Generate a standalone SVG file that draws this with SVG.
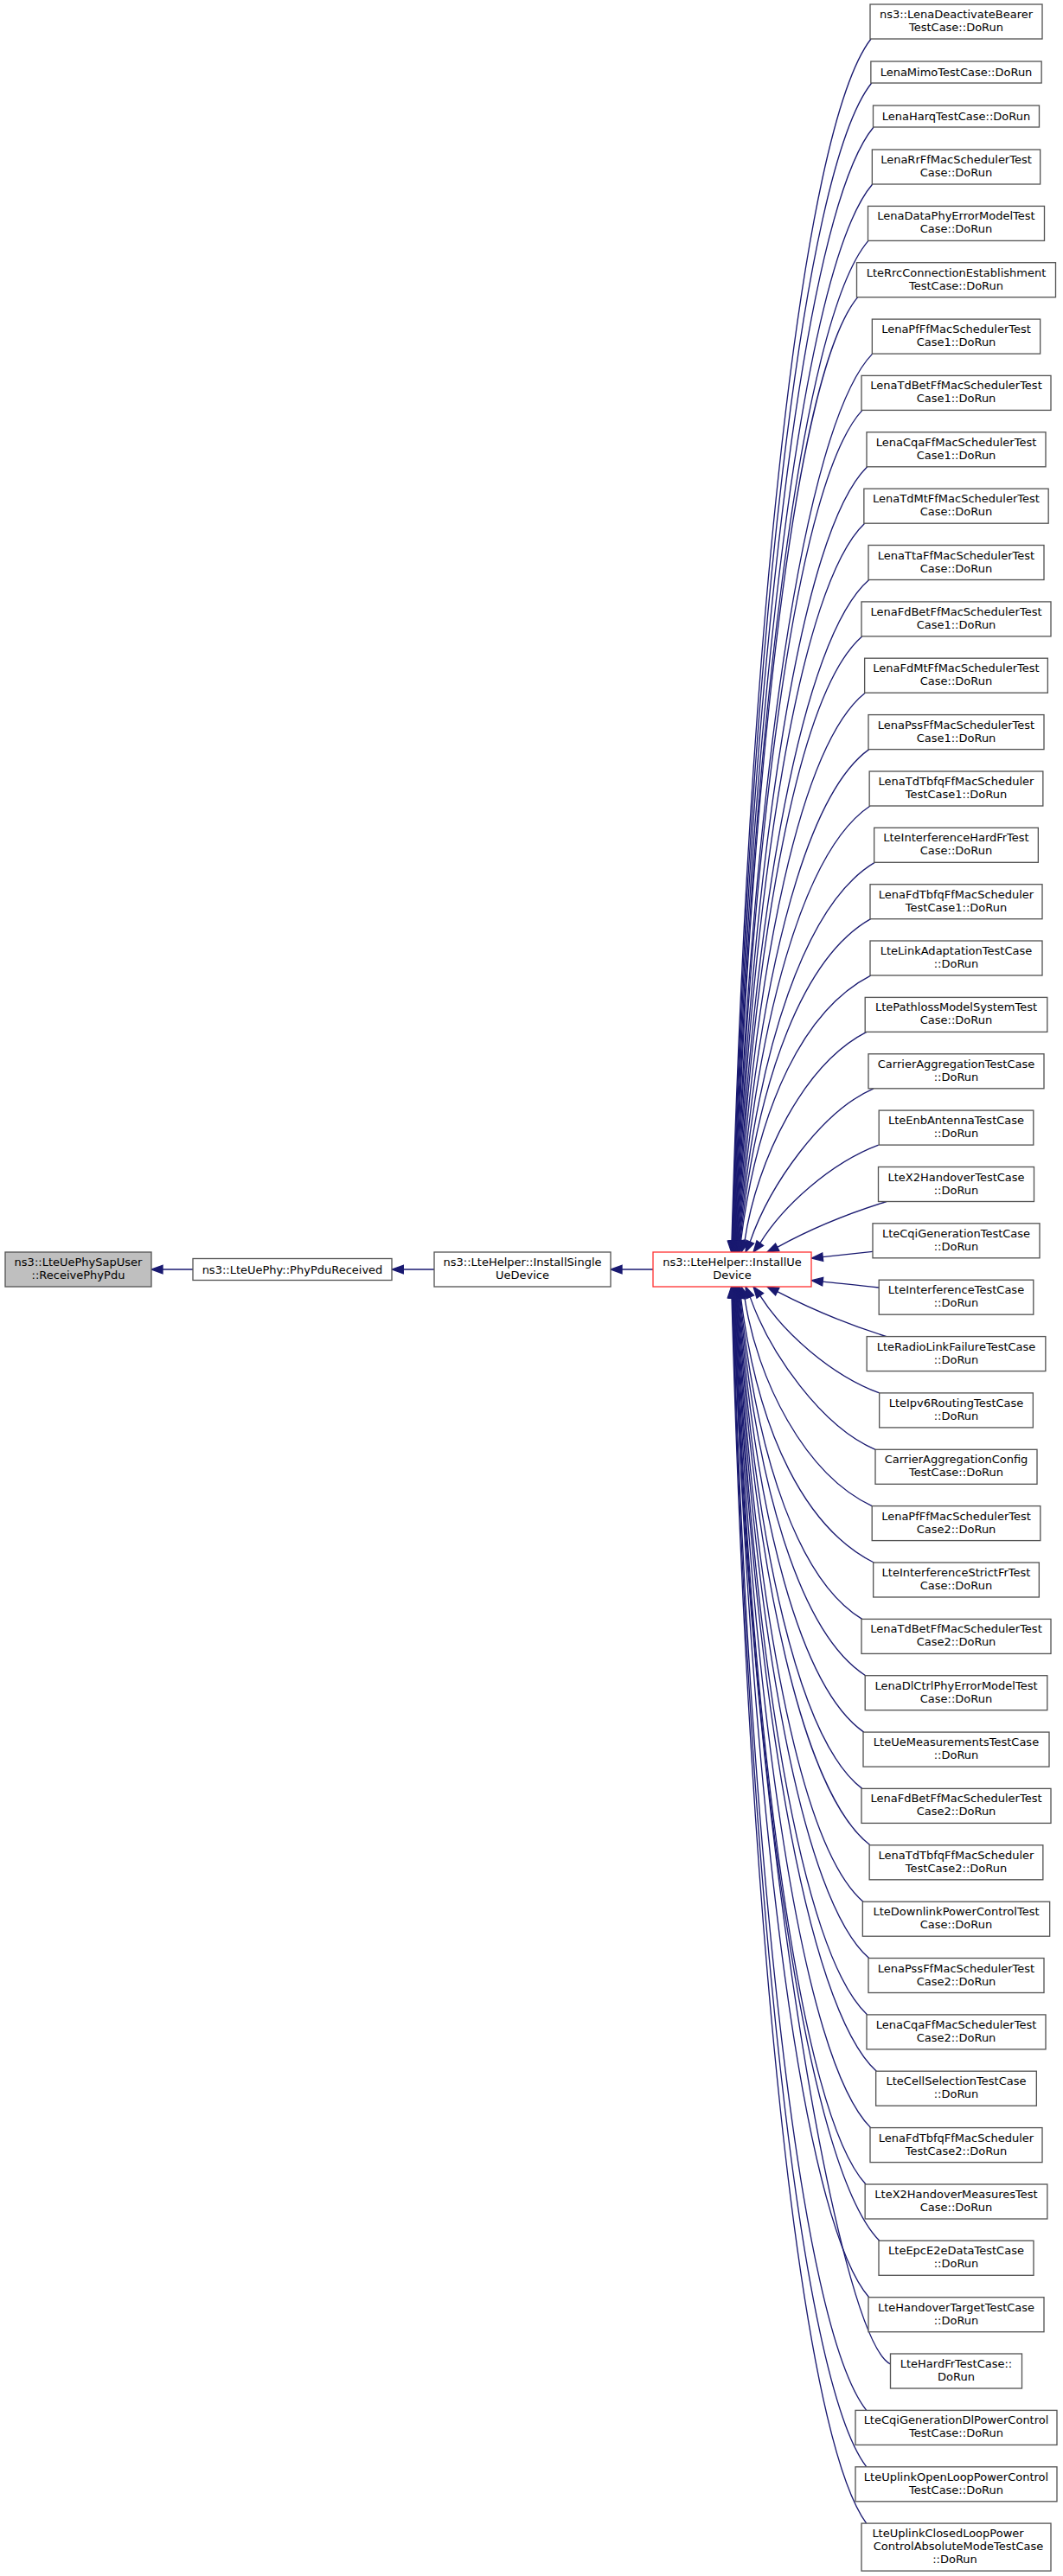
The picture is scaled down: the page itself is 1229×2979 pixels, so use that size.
<svg xmlns="http://www.w3.org/2000/svg" width="1229" height="2979" viewBox="0 0 1229 2979">
<style>
.n rect{fill:#ffffff;stroke:#555555;stroke-width:1.33}
.root rect{fill:#bfbfbf}
.red rect{stroke:#ff3333}
text{font-family:'DejaVu Sans',sans-serif;font-size:13px;text-anchor:middle;fill:#000000}
.e path{fill:none;stroke:#191970;stroke-width:1.33}
.e polygon{fill:#191970;stroke:#191970;stroke-width:1.33}
</style>
<rect width="1229" height="2979" fill="#ffffff"/>
<g id="edges" class="e">
<path d="M223,1468 L188,1468"/><polygon points="188,1463.3 175,1468 188,1472.7"/>
<path d="M502,1468 L466.3,1468"/><polygon points="466.3,1463.3 453.3,1468 466.3,1472.7"/>
<path d="M755,1468 L719,1468"/><polygon points="719,1463.3 706,1468 719,1472.7"/>
<path d="M1007,45 C926.3,149.2 866,733.5 846,1435"/><polygon points="850.7,1434.9 845.65,1448 841.3,1435.1"/>
<path d="M1007.7,96 C926.9,197.1 866.6,759 846.6,1435"/><polygon points="851.3,1434.9 846.2,1448 841.9,1435.1"/>
<path d="M1010,147 C928.4,245.1 867.2,784.5 847.15,1435"/><polygon points="851.9,1434.9 846.75,1448 842.5,1435.1"/>
<path d="M1008.7,213 C928,307.1 867.7,817.5 847.7,1435"/><polygon points="852.4,1434.8 847.3,1448 843,1435.2"/>
<path d="M1004,278.4 C925.9,368.6 868.3,850.2 848.3,1435"/><polygon points="853,1434.8 847.85,1448 843.6,1435.2"/>
<path d="M991.7,343.7 C920,430 868.9,882.8 848.9,1435"/><polygon points="853.6,1434.8 848.4,1448 844.2,1435.2"/>
<path d="M1008.7,409.1 C928.8,491.4 869.45,915.5 849.45,1435"/><polygon points="854.15,1434.8 848.95,1448 844.75,1435.2"/>
<path d="M997,474.4 C923.25,552.8 870,948.2 850,1435"/><polygon points="854.7,1434.8 849.5,1448 845.3,1435.2"/>
<path d="M1002.7,539.8 C926.4,614.3 870.6,980.9 850.6,1435"/><polygon points="855.3,1434.8 850.05,1448 845.9,1435.2"/>
<path d="M999.7,605.2 C925.15,675.8 871.2,1013.6 851.2,1435"/><polygon points="855.9,1434.8 850.6,1448 846.5,1435.2"/>
<path d="M1004.7,670.5 C927.9,737.2 871.8,1046.25 851.8,1435"/><polygon points="856.5,1434.8 851.15,1448 847.1,1435.2"/>
<path d="M996.7,735.9 C924.2,798.6 872.4,1079 852.4,1435"/><polygon points="857.1,1434.7 851.7,1448 847.7,1435.3"/>
<path d="M1000.3,801.3 C926.3,860.1 873.05,1111.65 853.05,1435"/><polygon points="857.75,1434.7 852.25,1448 848.35,1435.3"/>
<path d="M1004.7,866.6 C928.75,921.5 873.7,1144.3 853.7,1435"/><polygon points="858.4,1434.7 852.8,1448 849,1435.3"/>
<path d="M1006,932 C929.7,983 874.35,1177 854.35,1435"/><polygon points="859.05,1434.6 853.35,1448 849.65,1435.4"/>
<path d="M1011.3,997.4 C932.6,1044.4 875.05,1209.7 855.05,1435"/><polygon points="859.75,1434.6 853.9,1448 850.35,1435.4"/>
<path d="M1006.7,1062.7 C930.6,1105.8 875.8,1242.35 855.8,1435"/><polygon points="860.5,1434.5 854.45,1448 851.1,1435.5"/>
<path d="M1006.7,1128.1 C930.85,1167.3 876.6,1275 856.6,1435"/><polygon points="861.3,1434.4 855,1448 851.9,1435.6"/>
<path d="M1002,1193.4 C930,1230 875,1340 860.9,1435.6"/><polygon points="865.4,1437 857,1448 856.4,1434.2"/>
<path d="M1010,1258.8 C950,1285 890,1370 867.2,1436.1"/><polygon points="871.5,1438 862,1448 862.9,1434.2"/>
<path d="M1015.7,1324.1 C960,1345 905,1395 878.8,1437.6"/><polygon points="882.6,1440.4 871,1448 875,1434.8"/>
<path d="M1025,1389.5 C975,1405 930,1425 898.7,1442.3"/><polygon points="900.8,1446.5 887,1448 896.6,1438.1"/>
<path d="M1009,1447.3 C985,1450 965,1452 951.2,1453.6"/><polygon points="951.7,1458.3 938.3,1455 950.7,1448.9"/>
<path d="M1016.2,1489 C990,1486 968,1484 951.2,1482.1"/><polygon points="950.7,1486.8 938.3,1480.7 951.7,1477.4"/>
<path d="M1025,1545.6 C975,1530 930,1510 898.7,1493.7"/><polygon points="900.8,1489.5 887,1488 896.6,1497.9"/>
<path d="M1016.7,1610.9 C960,1590 905,1540 878.8,1498.4"/><polygon points="882.6,1495.6 871,1488 875,1501.2"/>
<path d="M1012,1676.3 C950,1650 890,1565 867.2,1499.9"/><polygon points="871.5,1498 862,1488 862.9,1501.8"/>
<path d="M1008.2,1741.6 C930,1705 875,1595 860.9,1500.4"/><polygon points="865.4,1499 857,1488 856.4,1501.8"/>
<path d="M1010.3,1807 C932.65,1767.9 876.63,1660.5 856.63,1501"/><polygon points="861.33,1501.6 855,1488 851.93,1500.4"/>
<path d="M996.7,1872.4 C925.6,1829.3 875.8,1693.2 855.8,1501"/><polygon points="860.5,1501.5 854.45,1488 851.1,1500.5"/>
<path d="M1000.7,1937.7 C927.3,1890.7 875.06,1725.85 855.06,1501"/><polygon points="859.76,1501.4 853.9,1488 850.36,1500.6"/>
<path d="M998.7,2003.1 C926,1952.2 874.36,1758.55 854.36,1501"/><polygon points="859.06,1501.4 853.35,1488 849.66,1500.6"/>
<path d="M996.7,2068.4 C924.75,2013.6 873.7,1791.2 853.7,1501"/><polygon points="858.4,1501.3 852.8,1488 849,1500.7"/>
<path d="M1006,2133.8 C929.1,2075.1 873.05,1823.9 853.05,1501"/><polygon points="857.75,1501.3 852.25,1488 848.35,1500.7"/>
<path d="M998,2199.2 C924.85,2136.5 872.43,1856.6 852.43,1501"/><polygon points="857.13,1501.3 851.7,1488 847.73,1500.7"/>
<path d="M1004.7,2264.5 C927.9,2197.9 871.82,1889.25 851.82,1501"/><polygon points="856.52,1501.2 851.15,1488 847.12,1500.8"/>
<path d="M1002.7,2329.9 C926.65,2259.4 871.22,1921.95 851.22,1501"/><polygon points="855.92,1501.2 850.6,1488 846.52,1500.8"/>
<path d="M1013.3,2395.3 C931.7,2320.9 870.62,1954.65 850.62,1501"/><polygon points="855.32,1501.2 850.05,1488 845.92,1500.8"/>
<path d="M1006.7,2460.6 C928.1,2382.2 870.03,1987.3 850.03,1501"/><polygon points="854.73,1501.2 849.5,1488 845.33,1500.8"/>
<path d="M1001,2526 C925,2443.7 869.45,2020 849.45,1501"/><polygon points="854.15,1501.2 848.95,1488 844.75,1500.8"/>
<path d="M1016.7,2591.3 C932.55,2505.1 868.87,2052.65 848.87,1501"/><polygon points="853.57,1501.2 848.4,1488 844.17,1500.8"/>
<path d="M1004.7,2656.7 C926.3,2566.6 868.29,2085.35 848.29,1501"/><polygon points="852.99,1501.2 847.85,1488 843.59,1500.8"/>
<path d="M1029.5,2734 C969,2704 867.72,2118 847.72,1501"/><polygon points="852.42,1501.2 847.3,1488 843.02,1500.8"/>
<path d="M1001.7,2787.4 C924.2,2689.4 867.15,2150.7 847.15,1501"/><polygon points="851.85,1501.1 846.75,1488 842.45,1500.9"/>
<path d="M1001.7,2852.7 C923.95,2750.8 866.58,2183.35 846.58,1501"/><polygon points="851.28,1501.1 846.2,1488 841.88,1500.9"/>
<path d="M1001.7,2918.1 C923.7,2812.3 866.01,2216 846.01,1501"/><polygon points="850.71,1501.1 845.65,1488 841.31,1500.9"/>
</g>
<g id="node_root" class="n root"><rect x="6" y="1448" width="169" height="40"/><text x="90.5" y="1464">ns3::LteUePhySapUser</text><text x="90.5" y="1479">::ReceivePhyPdu</text></g>
<g id="node_phy" class="n"><rect x="223" y="1455.5" width="230" height="25"/><text x="338" y="1472.5">ns3::LteUePhy::PhyPduReceived</text></g>
<g id="node_single" class="n"><rect x="502" y="1448" width="204" height="40"/><text x="604" y="1464">ns3::LteHelper::InstallSingle</text><text x="604" y="1479">UeDevice</text></g>
<g id="node_ue" class="n red"><rect x="755" y="1448" width="183" height="40"/><text x="846.5" y="1464">ns3::LteHelper::InstallUe</text><text x="846.5" y="1479">Device</text></g>
<g id="node1" class="n"><rect x="1006" y="5" width="199" height="40"/><text x="1105.5" y="21">ns3::LenaDeactivateBearer</text><text x="1105.5" y="36">TestCase::DoRun</text></g>
<g id="node2" class="n"><rect x="1006.85" y="71" width="197.3" height="25"/><text x="1105.5" y="88">LenaMimoTestCase::DoRun</text></g>
<g id="node3" class="n"><rect x="1009.5" y="122" width="192" height="25"/><text x="1105.5" y="139">LenaHarqTestCase::DoRun</text></g>
<g id="node4" class="n"><rect x="1008.35" y="173" width="194.3" height="40"/><text x="1105.5" y="189">LenaRrFfMacSchedulerTest</text><text x="1105.5" y="204">Case::DoRun</text></g>
<g id="node5" class="n"><rect x="1003.5" y="238.4" width="204" height="40"/><text x="1105.5" y="254.4">LenaDataPhyErrorModelTest</text><text x="1105.5" y="269.4">Case::DoRun</text></g>
<g id="node6" class="n"><rect x="990.5" y="303.7" width="230" height="40"/><text x="1105.5" y="319.7">LteRrcConnectionEstablishment</text><text x="1105.5" y="334.7">TestCase::DoRun</text></g>
<g id="node7" class="n"><rect x="1008.35" y="369.1" width="194.3" height="40"/><text x="1105.5" y="385.1">LenaPfFfMacSchedulerTest</text><text x="1105.5" y="400.1">Case1::DoRun</text></g>
<g id="node8" class="n"><rect x="996" y="434.4" width="219" height="40"/><text x="1105.5" y="450.4">LenaTdBetFfMacSchedulerTest</text><text x="1105.5" y="465.4">Case1::DoRun</text></g>
<g id="node9" class="n"><rect x="1002" y="499.8" width="207" height="40"/><text x="1105.5" y="515.8">LenaCqaFfMacSchedulerTest</text><text x="1105.5" y="530.8">Case1::DoRun</text></g>
<g id="node10" class="n"><rect x="998.85" y="565.2" width="213.3" height="40"/><text x="1105.5" y="581.2">LenaTdMtFfMacSchedulerTest</text><text x="1105.5" y="596.2">Case::DoRun</text></g>
<g id="node11" class="n"><rect x="1004" y="630.5" width="203" height="40"/><text x="1105.5" y="646.5">LenaTtaFfMacSchedulerTest</text><text x="1105.5" y="661.5">Case::DoRun</text></g>
<g id="node12" class="n"><rect x="996" y="695.9" width="219" height="40"/><text x="1105.5" y="711.9">LenaFdBetFfMacSchedulerTest</text><text x="1105.5" y="726.9">Case1::DoRun</text></g>
<g id="node13" class="n"><rect x="999.65" y="761.2" width="211.7" height="40"/><text x="1105.5" y="777.2">LenaFdMtFfMacSchedulerTest</text><text x="1105.5" y="792.2">Case::DoRun</text></g>
<g id="node14" class="n"><rect x="1004" y="826.6" width="203" height="40"/><text x="1105.5" y="842.6">LenaPssFfMacSchedulerTest</text><text x="1105.5" y="857.6">Case1::DoRun</text></g>
<g id="node15" class="n"><rect x="1005.15" y="892" width="200.7" height="40"/><text x="1105.5" y="908">LenaTdTbfqFfMacScheduler</text><text x="1105.5" y="923">TestCase1::DoRun</text></g>
<g id="node16" class="n"><rect x="1010.65" y="957.3" width="189.7" height="40"/><text x="1105.5" y="973.3">LteInterferenceHardFrTest</text><text x="1105.5" y="988.3">Case::DoRun</text></g>
<g id="node17" class="n"><rect x="1006" y="1022.7" width="199" height="40"/><text x="1105.5" y="1038.7">LenaFdTbfqFfMacScheduler</text><text x="1105.5" y="1053.7">TestCase1::DoRun</text></g>
<g id="node18" class="n"><rect x="1006" y="1088" width="199" height="40"/><text x="1105.5" y="1104">LteLinkAdaptationTestCase</text><text x="1105.5" y="1119">::DoRun</text></g>
<g id="node19" class="n"><rect x="1000.2" y="1153.4" width="210.6" height="40"/><text x="1105.5" y="1169.4">LtePathlossModelSystemTest</text><text x="1105.5" y="1184.4">Case::DoRun</text></g>
<g id="node20" class="n"><rect x="1004" y="1218.8" width="203" height="40"/><text x="1105.5" y="1234.8">CarrierAggregationTestCase</text><text x="1105.5" y="1249.8">::DoRun</text></g>
<g id="node21" class="n"><rect x="1016.2" y="1284.1" width="178.6" height="40"/><text x="1105.5" y="1300.1">LteEnbAntennaTestCase</text><text x="1105.5" y="1315.1">::DoRun</text></g>
<g id="node22" class="n"><rect x="1015.5" y="1349.5" width="180" height="40"/><text x="1105.5" y="1365.5">LteX2HandoverTestCase</text><text x="1105.5" y="1380.5">::DoRun</text></g>
<g id="node23" class="n"><rect x="1009" y="1414.8" width="193" height="40"/><text x="1105.5" y="1430.8">LteCqiGenerationTestCase</text><text x="1105.5" y="1445.8">::DoRun</text></g>
<g id="node24" class="n"><rect x="1016.2" y="1480.2" width="178.6" height="40"/><text x="1105.5" y="1496.2">LteInterferenceTestCase</text><text x="1105.5" y="1511.2">::DoRun</text></g>
<g id="node25" class="n"><rect x="1002.15" y="1545.6" width="206.7" height="40"/><text x="1105.5" y="1561.6">LteRadioLinkFailureTestCase</text><text x="1105.5" y="1576.6">::DoRun</text></g>
<g id="node26" class="n"><rect x="1016.65" y="1610.9" width="177.7" height="40"/><text x="1105.5" y="1626.9">LteIpv6RoutingTestCase</text><text x="1105.5" y="1641.9">::DoRun</text></g>
<g id="node27" class="n"><rect x="1012" y="1676.3" width="187" height="40"/><text x="1105.5" y="1692.3">CarrierAggregationConfig</text><text x="1105.5" y="1707.3">TestCase::DoRun</text></g>
<g id="node28" class="n"><rect x="1008.2" y="1741.6" width="194.6" height="40"/><text x="1105.5" y="1757.6">LenaPfFfMacSchedulerTest</text><text x="1105.5" y="1772.6">Case2::DoRun</text></g>
<g id="node29" class="n"><rect x="1009.65" y="1807" width="191.7" height="40"/><text x="1105.5" y="1823">LteInterferenceStrictFrTest</text><text x="1105.5" y="1838">Case::DoRun</text></g>
<g id="node30" class="n"><rect x="996" y="1872.4" width="219" height="40"/><text x="1105.5" y="1888.4">LenaTdBetFfMacSchedulerTest</text><text x="1105.5" y="1903.4">Case2::DoRun</text></g>
<g id="node31" class="n"><rect x="1000.2" y="1937.7" width="210.6" height="40"/><text x="1105.5" y="1953.7">LenaDlCtrlPhyErrorModelTest</text><text x="1105.5" y="1968.7">Case::DoRun</text></g>
<g id="node32" class="n"><rect x="998" y="2003.1" width="215" height="40"/><text x="1105.5" y="2019.1">LteUeMeasurementsTestCase</text><text x="1105.5" y="2034.1">::DoRun</text></g>
<g id="node33" class="n"><rect x="996" y="2068.4" width="219" height="40"/><text x="1105.5" y="2084.4">LenaFdBetFfMacSchedulerTest</text><text x="1105.5" y="2099.4">Case2::DoRun</text></g>
<g id="node34" class="n"><rect x="1005.15" y="2133.8" width="200.7" height="40"/><text x="1105.5" y="2149.8">LenaTdTbfqFfMacScheduler</text><text x="1105.5" y="2164.8">TestCase2::DoRun</text></g>
<g id="node35" class="n"><rect x="997.35" y="2199.2" width="216.3" height="40"/><text x="1105.5" y="2215.2">LteDownlinkPowerControlTest</text><text x="1105.5" y="2230.2">Case::DoRun</text></g>
<g id="node36" class="n"><rect x="1004" y="2264.5" width="203" height="40"/><text x="1105.5" y="2280.5">LenaPssFfMacSchedulerTest</text><text x="1105.5" y="2295.5">Case2::DoRun</text></g>
<g id="node37" class="n"><rect x="1002" y="2329.9" width="207" height="40"/><text x="1105.5" y="2345.9">LenaCqaFfMacSchedulerTest</text><text x="1105.5" y="2360.9">Case2::DoRun</text></g>
<g id="node38" class="n"><rect x="1012.65" y="2395.2" width="185.7" height="40"/><text x="1105.5" y="2411.2">LteCellSelectionTestCase</text><text x="1105.5" y="2426.2">::DoRun</text></g>
<g id="node39" class="n"><rect x="1006" y="2460.6" width="199" height="40"/><text x="1105.5" y="2476.6">LenaFdTbfqFfMacScheduler</text><text x="1105.5" y="2491.6">TestCase2::DoRun</text></g>
<g id="node40" class="n"><rect x="1000.15" y="2526" width="210.7" height="40"/><text x="1105.5" y="2542">LteX2HandoverMeasuresTest</text><text x="1105.5" y="2557">Case::DoRun</text></g>
<g id="node41" class="n"><rect x="1016" y="2591.3" width="179" height="40"/><text x="1105.5" y="2607.3">LteEpcE2eDataTestCase</text><text x="1105.5" y="2622.3">::DoRun</text></g>
<g id="node42" class="n"><rect x="1004" y="2656.7" width="203" height="40"/><text x="1105.5" y="2672.7">LteHandoverTargetTestCase</text><text x="1105.5" y="2687.7">::DoRun</text></g>
<g id="node43" class="n"><rect x="1029.5" y="2722" width="152" height="40"/><text x="1105.5" y="2738">LteHardFrTestCase::</text><text x="1105.5" y="2753">DoRun</text></g>
<g id="node44" class="n"><rect x="989" y="2787.4" width="233" height="40"/><text x="1105.5" y="2803.4">LteCqiGenerationDlPowerControl</text><text x="1105.5" y="2818.4">TestCase::DoRun</text></g>
<g id="node45" class="n"><rect x="989" y="2852.8" width="233" height="40"/><text x="1105.5" y="2868.8">LteUplinkOpenLoopPowerControl</text><text x="1105.5" y="2883.8">TestCase::DoRun</text></g>
<g id="node46" class="n"><rect x="996" y="2918.1" width="219" height="55"/><text x="1096" y="2934">LteUplinkClosedLoopPower</text><text x="1108" y="2949">ControlAbsoluteModeTestCase</text><text x="1104" y="2964">::DoRun</text></g>
</svg>
